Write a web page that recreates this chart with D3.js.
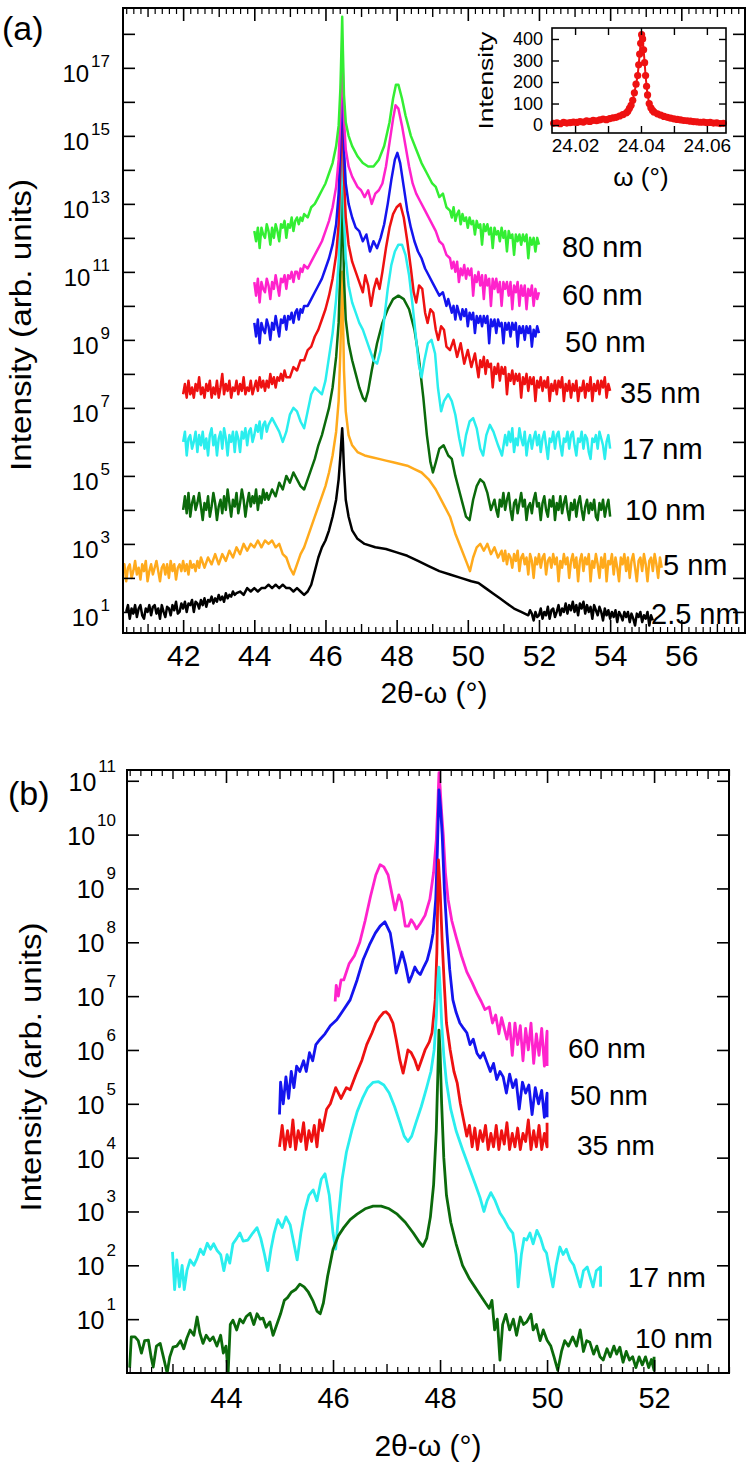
<!DOCTYPE html>
<html>
<head>
<meta charset="utf-8">
<title>2θ-ω scans</title>
<script src="https://cdn.jsdelivr.net/npm/d3@7/dist/d3.min.js"></script>
<style>
  html, body { margin: 0; padding: 0; background: #fff; }
  svg { display: block; }
  text { font-family: 'Liberation Sans', Arial, Helvetica, sans-serif; fill: #000; }
</style>
</head>
<body>
<svg id="chart" width="750" height="1466"></svg>
<script>
// Scans: [2θ-ω in degrees, log10 of intensity]

// panel (a)
const a80 = [[44.0,12.2],[44.05,11.9],[44.1,12.3],[44.15,11.7],[44.2,12.3],[44.25,12.1],[44.3,12.0],[44.35,12.4],[44.4,12.2],[44.45,11.8],[44.5,12.3],[44.55,12.0],[44.6,12.4],[44.65,12.2],[44.7,11.9],[44.75,12.4],[44.8,12.3],[44.85,12.5],[44.9,12.0],[44.95,12.4],[45.0,12.3],[45.05,12.6],[45.1,12.2],[45.15,12.5],[45.2,12.6],[45.25,12.4],[45.3,12.6],[45.35,12.5],[45.4,12.7],[45.5,12.6],[45.6,12.9],[45.7,13.0],[45.8,13.2],[45.9,13.4],[46.0,13.6],[46.1,13.9],[46.2,14.2],[46.3,14.7],[46.37,15.3],[46.42,16.4],[46.45,17.6],[46.47,18.5],[46.49,17.5],[46.52,16.2],[46.57,15.4],[46.65,15.0],[46.75,14.7],[46.9,14.4],[47.05,14.2],[47.2,14.1],[47.35,14.1],[47.5,14.3],[47.65,14.7],[47.8,15.4],[47.9,16.1],[47.98,16.5],[48.05,16.5],[48.15,16.1],[48.25,15.6],[48.4,15.0],[48.55,14.6],[48.7,14.2],[48.85,13.9],[49.0,13.6],[49.1,13.5],[49.2,13.2],[49.3,13.3],[49.4,12.9],[49.5,12.8],[49.55,12.6],[49.6,12.9],[49.65,12.5],[49.7,12.7],[49.75,12.8],[49.8,12.4],[49.85,12.7],[49.9,12.5],[49.95,12.6],[50.0,12.3],[50.05,12.6],[50.1,12.4],[50.15,12.5],[50.2,12.1],[50.25,12.5],[50.3,12.3],[50.35,12.4],[50.4,11.8],[50.45,12.4],[50.5,12.2],[50.55,12.4],[50.6,12.1],[50.65,12.3],[50.7,11.7],[50.75,12.3],[50.8,12.1],[50.85,12.2],[50.9,11.9],[50.95,12.3],[51.0,12.0],[51.05,12.2],[51.1,11.6],[51.15,12.2],[51.2,12.0],[51.25,12.1],[51.3,11.5],[51.35,12.1],[51.4,11.9],[51.45,12.1],[51.5,11.8],[51.55,12.1],[51.6,11.9],[51.65,12.1],[51.7,11.4],[51.75,12.0],[51.8,11.8],[51.85,12.0],[51.9,11.6],[51.95,12.0],[52.0,11.8]];

const a60 = [[44.0,10.7],[44.05,10.3],[44.1,10.8],[44.15,10.1],[44.2,10.7],[44.25,10.5],[44.3,10.4],[44.35,10.8],[44.4,10.6],[44.45,10.2],[44.5,10.7],[44.55,10.5],[44.6,10.9],[44.65,10.6],[44.7,10.3],[44.75,10.8],[44.8,10.7],[44.85,10.9],[44.9,10.5],[44.95,10.9],[45.0,10.8],[45.05,11.0],[45.1,10.7],[45.15,11.0],[45.2,11.0],[45.25,10.8],[45.3,11.1],[45.35,11.0],[45.4,11.2],[45.5,11.1],[45.6,11.3],[45.7,11.5],[45.8,11.7],[45.9,11.9],[46.0,12.2],[46.1,12.5],[46.2,12.9],[46.3,13.5],[46.37,14.3],[46.42,15.6],[46.45,16.8],[46.47,17.8],[46.49,16.8],[46.52,15.5],[46.57,14.6],[46.65,14.1],[46.75,13.8],[46.9,13.5],[47.0,13.4],[47.1,13.2],[47.2,13.4],[47.3,13.0],[47.4,13.3],[47.5,13.4],[47.6,13.6],[47.7,14.1],[47.8,14.8],[47.9,15.5],[47.97,15.9],[48.05,15.8],[48.15,15.3],[48.25,14.7],[48.35,14.1],[48.45,13.6],[48.55,13.3],[48.65,13.1],[48.8,12.8],[48.95,12.5],[49.1,12.2],[49.2,11.9],[49.3,11.8],[49.4,11.5],[49.5,11.4],[49.55,11.1],[49.6,11.3],[49.65,11.0],[49.7,11.3],[49.75,10.7],[49.8,11.1],[49.85,10.9],[49.9,11.2],[49.95,10.8],[50.0,11.1],[50.05,10.9],[50.1,11.1],[50.15,10.3],[50.2,10.9],[50.25,10.7],[50.3,11.0],[50.35,10.6],[50.4,10.9],[50.45,10.2],[50.5,10.9],[50.55,10.6],[50.6,10.8],[50.65,10.0],[50.7,10.8],[50.75,10.5],[50.8,10.8],[50.85,10.4],[50.9,10.7],[50.95,10.0],[51.0,10.7],[51.05,10.5],[51.1,10.7],[51.15,10.3],[51.2,10.7],[51.25,9.9],[51.3,10.6],[51.35,10.4],[51.4,10.7],[51.45,10.0],[51.5,10.6],[51.55,10.3],[51.6,10.6],[51.65,9.9],[51.7,10.5],[51.75,10.3],[51.8,10.6],[51.85,10.0],[51.9,10.5],[51.95,10.2],[52.0,10.4]];

const a50 = [[44.0,9.5],[44.05,9.1],[44.1,9.6],[44.15,8.9],[44.2,9.5],[44.25,9.3],[44.3,9.2],[44.35,9.6],[44.4,9.4],[44.45,9.0],[44.5,9.5],[44.55,9.3],[44.6,9.7],[44.65,9.4],[44.7,9.1],[44.75,9.6],[44.8,9.5],[44.85,9.7],[44.9,9.3],[44.95,9.7],[45.0,9.6],[45.05,9.8],[45.1,9.5],[45.15,9.8],[45.2,9.9],[45.25,9.6],[45.3,9.9],[45.35,9.8],[45.4,10.0],[45.5,10.0],[45.6,10.2],[45.7,10.4],[45.8,10.6],[45.9,10.8],[46.0,11.1],[46.1,11.4],[46.2,11.8],[46.3,12.4],[46.37,13.3],[46.42,14.8],[46.45,16.2],[46.47,17.3],[46.49,16.2],[46.52,14.6],[46.57,13.6],[46.65,13.0],[46.75,12.6],[46.85,12.3],[46.95,12.2],[47.05,11.9],[47.15,12.1],[47.25,11.6],[47.35,11.9],[47.45,11.7],[47.55,12.0],[47.65,12.4],[47.75,13.0],[47.85,13.7],[47.95,14.3],[48.02,14.5],[48.1,14.2],[48.2,13.5],[48.3,12.8],[48.4,12.3],[48.5,11.9],[48.6,11.6],[48.7,11.4],[48.8,11.1],[48.9,10.9],[49.0,10.7],[49.1,10.5],[49.2,10.3],[49.3,10.4],[49.4,10.0],[49.45,10.2],[49.5,10.0],[49.55,9.8],[49.6,10.0],[49.65,9.6],[49.7,10.0],[49.75,9.8],[49.8,9.6],[49.85,9.9],[49.9,9.7],[49.95,9.9],[50.0,9.4],[50.05,9.8],[50.1,9.6],[50.15,9.8],[50.2,9.2],[50.25,9.7],[50.3,9.5],[50.35,9.7],[50.4,9.4],[50.45,9.7],[50.5,9.5],[50.55,9.7],[50.6,8.9],[50.65,9.6],[50.7,9.4],[50.75,9.6],[50.8,9.2],[50.85,9.6],[50.9,9.4],[50.95,9.5],[51.0,8.9],[51.05,9.5],[51.1,9.3],[51.15,9.5],[51.2,9.1],[51.25,9.5],[51.3,9.3],[51.35,9.5],[51.4,8.8],[51.45,9.4],[51.5,9.2],[51.55,9.4],[51.6,9.0],[51.65,9.4],[51.7,9.2],[51.75,9.4],[51.8,8.8],[51.85,9.3],[51.9,9.1],[51.95,9.4],[52.0,9.2]];

const a35 = [[42.0,7.4],[42.05,7.7],[42.1,7.3],[42.15,7.8],[42.2,7.4],[42.25,7.6],[42.3,7.3],[42.35,7.7],[42.4,7.5],[42.45,7.9],[42.5,7.4],[42.55,7.6],[42.6,7.3],[42.65,7.7],[42.7,7.5],[42.75,7.8],[42.8,7.3],[42.85,7.6],[42.9,7.4],[42.95,7.8],[43.0,7.3],[43.05,7.6],[43.1,8.0],[43.15,7.4],[43.2,7.7],[43.25,7.5],[43.3,7.8],[43.35,7.3],[43.4,7.6],[43.45,7.5],[43.5,7.8],[43.55,7.4],[43.6,7.7],[43.65,7.5],[43.7,7.9],[43.75,7.4],[43.8,7.6],[43.85,7.5],[43.9,7.8],[43.95,7.4],[44.0,7.6],[44.05,7.8],[44.1,7.5],[44.15,7.9],[44.2,7.6],[44.25,7.8],[44.3,7.5],[44.35,7.8],[44.4,7.6],[44.45,8.0],[44.5,7.7],[44.55,7.9],[44.6,7.6],[44.65,7.9],[44.7,7.8],[44.75,8.0],[44.8,7.8],[44.85,8.1],[44.9,7.9],[45.0,7.9],[45.1,8.2],[45.2,8.1],[45.3,8.4],[45.4,8.4],[45.5,8.7],[45.6,8.8],[45.7,9.1],[45.8,9.3],[45.9,9.6],[46.0,9.9],[46.1,10.3],[46.2,10.8],[46.3,11.5],[46.37,12.4],[46.42,14.0],[46.45,15.4],[46.47,16.5],[46.49,15.4],[46.52,13.8],[46.57,12.6],[46.65,11.8],[46.75,11.3],[46.85,11.0],[46.95,10.7],[47.05,10.4],[47.12,10.9],[47.2,10.6],[47.28,10.0],[47.36,10.5],[47.44,10.8],[47.52,10.5],[47.6,11.0],[47.7,11.7],[47.8,12.3],[47.9,12.7],[48.0,12.9],[48.1,13.0],[48.2,12.6],[48.3,11.9],[48.4,11.1],[48.48,10.4],[48.55,10.1],[48.63,10.6],[48.72,10.5],[48.8,9.8],[48.87,9.5],[48.95,9.9],[49.03,9.8],[49.1,9.3],[49.17,9.0],[49.25,9.4],[49.33,9.3],[49.4,8.8],[49.5,8.7],[49.6,9.0],[49.7,8.5],[49.8,8.9],[49.9,8.3],[50.0,8.7],[50.1,8.2],[50.2,8.6],[50.3,7.9],[50.35,8.4],[50.4,8.2],[50.45,8.5],[50.5,8.0],[50.55,8.4],[50.6,8.2],[50.65,8.3],[50.7,7.6],[50.75,8.2],[50.8,8.0],[50.85,8.3],[50.9,7.8],[50.95,8.2],[51.0,8.0],[51.05,8.2],[51.1,7.4],[51.15,8.0],[51.2,7.8],[51.25,8.1],[51.3,7.7],[51.35,8.0],[51.4,7.8],[51.45,8.0],[51.5,7.3],[51.55,7.9],[51.6,7.7],[51.65,8.0],[51.7,7.5],[51.75,7.9],[51.8,7.7],[51.85,7.9],[51.9,7.2],[51.95,7.8],[52.0,7.6],[52.05,7.9],[52.1,7.5],[52.15,7.8],[52.2,7.6],[52.25,7.9],[52.3,7.2],[52.35,7.7],[52.4,7.5],[52.45,7.8],[52.5,7.4],[52.55,7.8],[52.6,7.6],[52.65,7.9],[52.7,7.2],[52.75,7.7],[52.8,7.5],[52.85,7.8],[52.9,7.3],[52.95,7.7],[53.0,7.5],[53.05,7.8],[53.1,7.2],[53.15,7.6],[53.2,7.5],[53.25,7.8],[53.3,7.3],[53.35,7.7],[53.4,7.5],[53.45,7.9],[53.5,7.2],[53.55,7.7],[53.6,7.5],[53.65,7.8],[53.7,7.4],[53.75,7.8],[53.8,7.6],[53.85,7.9],[53.9,7.3],[53.95,7.7],[54.0,7.5]];

const a17 = [[42.0,6.0],[42.05,6.3],[42.1,5.6],[42.15,6.1],[42.2,6.2],[42.25,5.8],[42.3,6.0],[42.35,6.3],[42.4,5.7],[42.45,6.2],[42.5,5.9],[42.55,6.3],[42.6,5.8],[42.65,6.1],[42.7,5.6],[42.75,6.2],[42.8,6.4],[42.85,5.9],[42.9,6.2],[42.95,5.6],[43.0,6.1],[43.05,6.3],[43.1,5.8],[43.15,6.4],[43.2,6.1],[43.25,5.6],[43.3,6.2],[43.35,6.0],[43.4,6.3],[43.45,5.7],[43.5,6.3],[43.55,6.1],[43.6,5.7],[43.65,6.3],[43.7,6.1],[43.75,6.4],[43.8,5.9],[43.85,6.3],[43.9,6.4],[43.95,6.0],[44.0,6.2],[44.05,6.5],[44.1,6.3],[44.15,6.6],[44.2,6.1],[44.25,6.5],[44.3,6.6],[44.35,6.3],[44.4,6.5],[44.5,6.7],[44.6,6.5],[44.7,6.3],[44.8,6.0],[44.9,6.3],[45.0,6.8],[45.1,7.0],[45.2,6.9],[45.3,6.6],[45.4,6.4],[45.5,6.9],[45.6,7.4],[45.7,7.6],[45.8,7.5],[45.9,7.4],[46.0,7.8],[46.1,8.5],[46.2,9.2],[46.3,10.2],[46.37,11.3],[46.42,13.0],[46.45,14.4],[46.47,15.5],[46.49,14.3],[46.52,12.6],[46.57,11.4],[46.65,10.6],[46.75,10.1],[46.85,9.8],[46.95,9.5],[47.05,9.3],[47.15,9.0],[47.25,8.7],[47.35,8.4],[47.45,8.3],[47.55,8.7],[47.65,9.6],[47.75,10.5],[47.85,11.2],[47.95,11.6],[48.05,11.8],[48.15,11.8],[48.25,11.5],[48.35,10.9],[48.45,10.0],[48.55,9.0],[48.62,8.3],[48.7,7.9],[48.78,8.4],[48.88,8.9],[48.98,9.0],[49.08,8.6],[49.16,7.6],[49.25,6.9],[49.33,7.2],[49.45,7.4],[49.55,7.2],[49.65,6.8],[49.76,6.1],[49.86,5.6],[49.95,6.2],[50.05,6.6],[50.15,6.7],[50.25,6.4],[50.35,5.8],[50.43,5.6],[50.52,6.2],[50.62,6.5],[50.72,6.3],[50.85,5.9],[50.96,5.6],[51.05,6.2],[51.1,5.9],[51.15,6.3],[51.2,6.0],[51.25,6.4],[51.3,5.7],[51.35,6.1],[51.4,5.9],[51.45,6.4],[51.5,6.1],[51.55,5.9],[51.6,6.3],[51.65,5.6],[51.7,6.0],[51.75,6.2],[51.8,5.8],[51.85,6.1],[51.9,6.3],[51.95,5.9],[52.0,6.2],[52.05,5.7],[52.1,6.1],[52.15,6.3],[52.2,5.9],[52.25,5.5],[52.3,6.1],[52.35,6.0],[52.4,6.3],[52.45,5.8],[52.5,6.2],[52.55,6.3],[52.6,5.9],[52.65,5.6],[52.7,6.1],[52.75,6.0],[52.8,6.3],[52.85,5.8],[52.9,6.2],[52.95,6.3],[53.0,5.9],[53.05,5.6],[53.1,6.1],[53.15,6.0],[53.2,6.3],[53.25,5.8],[53.3,6.2],[53.35,6.1],[53.4,5.7],[53.45,5.5],[53.5,6.1],[53.55,6.0],[53.6,6.2],[53.65,5.8],[53.7,6.3],[53.75,6.1],[53.8,5.9],[53.85,5.5],[53.9,6.0],[53.95,6.2],[54.0,5.8]];

const a10 = [[42.0,4.0],[42.05,4.4],[42.1,3.9],[42.15,4.5],[42.2,3.8],[42.25,4.2],[42.3,4.4],[42.35,4.0],[42.4,4.2],[42.45,4.5],[42.5,4.1],[42.55,3.7],[42.6,4.2],[42.65,4.0],[42.7,4.4],[42.75,3.8],[42.8,4.1],[42.85,4.5],[42.9,4.2],[42.95,3.7],[43.0,4.1],[43.05,4.3],[43.1,3.9],[43.15,4.4],[43.2,4.0],[43.25,4.6],[43.3,4.2],[43.35,3.8],[43.4,4.3],[43.45,4.1],[43.5,4.5],[43.55,3.9],[43.6,4.2],[43.65,4.6],[43.7,4.3],[43.75,3.8],[43.8,4.2],[43.85,4.5],[43.9,4.1],[43.95,4.4],[44.0,4.2],[44.05,4.6],[44.1,4.0],[44.15,4.4],[44.2,4.2],[44.25,4.6],[44.3,4.3],[44.35,4.5],[44.4,4.3],[44.5,4.6],[44.6,4.4],[44.7,4.8],[44.8,4.6],[44.9,5.0],[45.0,4.8],[45.1,5.1],[45.2,4.9],[45.3,4.7],[45.4,4.6],[45.5,4.9],[45.6,5.2],[45.7,5.5],[45.8,5.9],[45.9,6.2],[46.0,6.6],[46.1,7.0],[46.2,7.6],[46.3,8.5],[46.37,9.5],[46.42,11.2],[46.45,12.6],[46.47,13.6],[46.49,12.5],[46.52,10.8],[46.57,9.6],[46.65,8.9],[46.75,8.4],[46.85,8.0],[46.95,7.6],[47.05,7.3],[47.12,7.2],[47.2,7.5],[47.3,8.1],[47.45,8.9],[47.6,9.5],[47.75,9.9],[47.9,10.2],[48.05,10.3],[48.2,10.2],[48.35,9.9],[48.5,9.3],[48.62,8.5],[48.75,7.3],[48.85,6.2],[48.95,5.4],[49.02,5.1],[49.1,5.4],[49.2,5.8],[49.32,5.9],[49.45,5.6],[49.55,5.5],[49.65,5.0],[49.75,4.6],[49.85,4.2],[49.95,3.8],[50.05,3.7],[50.15,4.3],[50.25,4.7],[50.35,4.9],[50.45,4.8],[50.55,4.5],[50.65,4.0],[50.75,4.3],[50.8,4.0],[50.85,3.8],[50.9,4.3],[50.95,4.1],[51.0,4.5],[51.05,4.0],[51.1,4.3],[51.15,4.5],[51.2,4.0],[51.25,3.7],[51.3,4.2],[51.35,4.3],[51.4,3.9],[51.45,4.2],[51.5,4.5],[51.55,4.1],[51.6,4.3],[51.65,3.7],[51.7,4.1],[51.75,4.2],[51.8,3.9],[51.85,4.3],[51.9,4.5],[51.95,4.1],[52.0,4.2],[52.05,3.7],[52.1,4.2],[52.15,4.4],[52.2,4.0],[52.25,3.8],[52.3,4.3],[52.35,4.1],[52.4,4.4],[52.45,3.7],[52.5,4.2],[52.55,4.0],[52.6,4.4],[52.65,3.9],[52.7,4.2],[52.75,4.4],[52.8,4.0],[52.85,3.7],[52.9,4.2],[52.95,4.0],[53.0,4.3],[53.05,3.8],[53.1,4.2],[53.15,4.4],[53.2,4.0],[53.25,3.7],[53.3,4.1],[53.35,4.3],[53.4,3.9],[53.45,4.2],[53.5,4.0],[53.55,4.3],[53.6,3.8],[53.65,3.7],[53.7,4.2],[53.75,4.0],[53.8,4.3],[53.85,3.8],[53.9,4.1],[53.95,4.3],[54.0,3.8]];

const a5 = [[40.3,2.2],[40.35,2.4],[40.4,1.9],[40.45,2.3],[40.5,2.4],[40.55,2.0],[40.6,2.2],[40.65,2.5],[40.7,2.1],[40.75,2.3],[40.8,1.95],[40.85,2.4],[40.9,2.2],[40.95,2.5],[41.0,1.9],[41.05,2.2],[41.1,2.4],[41.15,2.1],[41.2,2.3],[41.25,2.5],[41.3,2.2],[41.35,1.9],[41.4,2.3],[41.45,2.4],[41.5,2.1],[41.55,2.4],[41.6,2.0],[41.65,2.5],[41.7,2.2],[41.75,2.4],[41.8,1.95],[41.85,2.3],[41.9,2.4],[41.95,2.2],[42.0,2.5],[42.05,2.2],[42.1,2.4],[42.15,2.1],[42.2,2.5],[42.25,2.3],[42.3,2.4],[42.35,2.2],[42.4,2.5],[42.45,2.3],[42.5,2.6],[42.6,2.3],[42.7,2.6],[42.8,2.4],[42.9,2.7],[43.0,2.4],[43.1,2.7],[43.2,2.5],[43.3,2.8],[43.4,2.6],[43.5,2.9],[43.6,2.7],[43.7,3.0],[43.8,2.8],[43.9,3.0],[44.0,2.9],[44.1,3.1],[44.2,2.9],[44.3,3.1],[44.4,3.0],[44.5,3.1],[44.6,2.9],[44.7,3.0],[44.8,2.7],[44.9,2.6],[45.0,2.3],[45.1,2.1],[45.2,2.4],[45.3,2.7],[45.4,2.9],[45.5,3.2],[45.6,3.5],[45.7,3.8],[45.8,4.1],[45.9,4.4],[46.0,4.7],[46.1,5.1],[46.2,5.6],[46.3,6.3],[46.37,7.2],[46.42,8.7],[46.45,10.0],[46.47,11.0],[46.49,9.8],[46.52,8.1],[46.57,6.9],[46.65,6.2],[46.75,5.9],[46.9,5.7],[47.1,5.6],[47.3,5.55],[47.5,5.5],[47.7,5.45],[47.9,5.4],[48.1,5.35],[48.3,5.3],[48.5,5.2],[48.7,5.1],[48.9,4.9],[49.1,4.6],[49.3,4.2],[49.5,3.8],[49.65,3.3],[49.8,2.9],[49.95,2.5],[50.06,2.2],[50.15,2.6],[50.25,2.9],[50.35,3.0],[50.45,2.8],[50.55,3.0],[50.65,2.7],[50.75,2.9],[50.85,2.6],[50.95,2.8],[51.0,2.5],[51.05,2.8],[51.1,2.4],[51.15,2.7],[51.2,2.6],[51.25,2.3],[51.3,2.7],[51.35,2.5],[51.4,2.8],[51.45,2.2],[51.5,2.6],[51.55,2.7],[51.6,2.4],[51.65,2.6],[51.7,2.1],[51.75,2.7],[51.8,2.5],[51.85,2.0],[51.9,2.6],[51.95,2.4],[52.0,2.7],[52.05,2.3],[52.1,2.6],[52.15,2.7],[52.2,2.1],[52.25,2.5],[52.3,2.6],[52.35,2.3],[52.4,2.7],[52.45,2.4],[52.5,2.6],[52.55,1.9],[52.6,2.5],[52.65,2.3],[52.7,2.7],[52.75,2.4],[52.8,2.6],[52.85,2.0],[52.9,2.5],[52.95,2.7],[53.0,2.3],[53.05,2.6],[53.1,1.9],[53.15,2.5],[53.2,2.7],[53.25,2.2],[53.3,2.6],[53.35,2.4],[53.4,2.7],[53.45,1.9],[53.5,2.5],[53.55,2.3],[53.6,2.7],[53.65,2.4],[53.7,2.0],[53.75,2.6],[53.8,2.3],[53.85,2.7],[53.9,1.9],[53.95,2.5],[54.0,2.4],[54.05,2.7],[54.1,2.1],[54.15,2.6],[54.2,2.3],[54.25,1.9],[54.3,2.6],[54.35,2.4],[54.4,2.7],[54.45,2.2],[54.5,2.6],[54.55,2.0],[54.6,2.5],[54.65,2.7],[54.7,2.3],[54.75,1.9],[54.8,2.5],[54.85,2.6],[54.9,2.2],[54.95,2.7],[55.0,2.4],[55.05,1.9],[55.1,2.5],[55.15,2.6],[55.2,2.2],[55.25,2.7],[55.3,2.4],[55.35,2.0],[55.4,2.6],[55.45,2.3]];

const a25 = [[40.4,1.0],[40.45,1.2],[40.5,0.8],[40.55,1.1],[40.6,0.95],[40.65,1.2],[40.7,0.85],[40.75,1.1],[40.8,1.2],[40.85,0.9],[40.9,0.8],[40.95,1.1],[41.0,1.0],[41.05,1.2],[41.1,0.9],[41.15,1.15],[41.2,1.2],[41.25,0.95],[41.3,1.1],[41.35,0.8],[41.4,1.2],[41.45,1.0],[41.5,0.85],[41.55,1.15],[41.6,1.1],[41.65,0.9],[41.7,1.2],[41.75,1.05],[41.8,1.3],[41.85,0.95],[41.9,1.0],[41.95,1.25],[42.0,1.1],[42.05,1.3],[42.1,1.0],[42.15,1.25],[42.2,1.2],[42.25,1.35],[42.3,1.0],[42.35,1.3],[42.4,1.25],[42.45,1.1],[42.5,1.35],[42.55,1.2],[42.6,1.4],[42.65,1.15],[42.7,1.35],[42.75,1.3],[42.8,1.45],[42.85,1.25],[42.9,1.4],[42.95,1.3],[43.0,1.5],[43.05,1.35],[43.1,1.45],[43.15,1.3],[43.2,1.55],[43.25,1.4],[43.3,1.5],[43.35,1.45],[43.4,1.6],[43.45,1.5],[43.5,1.55],[43.6,1.6],[43.7,1.5],[43.8,1.7],[43.9,1.6],[44.0,1.7],[44.1,1.6],[44.2,1.7],[44.3,1.7],[44.4,1.8],[44.5,1.7],[44.6,1.8],[44.7,1.7],[44.8,1.8],[44.9,1.7],[45.0,1.7],[45.1,1.6],[45.2,1.7],[45.3,1.6],[45.4,1.5],[45.5,1.6],[45.6,1.8],[45.7,2.2],[45.8,2.6],[45.9,2.9],[46.0,3.1],[46.1,3.4],[46.2,3.8],[46.3,4.3],[46.37,4.9],[46.42,5.6],[46.45,6.1],[46.47,6.4],[46.49,6.0],[46.52,5.2],[46.57,4.3],[46.65,3.8],[46.75,3.4],[46.9,3.15],[47.1,3.0],[47.4,2.9],[47.7,2.85],[48.0,2.75],[48.3,2.65],[48.6,2.5],[48.9,2.35],[49.2,2.2],[49.5,2.1],[49.8,2.0],[50.1,1.9],[50.3,1.85],[50.5,1.7],[50.7,1.55],[50.9,1.4],[51.1,1.25],[51.3,1.1],[51.5,1.0],[51.7,0.9],[51.75,1.05],[51.8,0.95],[51.85,0.75],[51.9,1.0],[51.95,0.85],[52.0,0.9],[52.05,1.1],[52.1,0.8],[52.15,1.0],[52.2,0.9],[52.25,1.15],[52.3,0.8],[52.35,1.05],[52.4,1.1],[52.45,0.85],[52.5,1.0],[52.55,1.2],[52.6,0.9],[52.65,1.1],[52.7,1.0],[52.75,1.25],[52.8,0.95],[52.85,1.2],[52.9,1.05],[52.95,1.3],[53.0,1.0],[53.05,1.2],[53.1,0.9],[53.15,1.25],[53.2,1.1],[53.25,1.3],[53.3,0.95],[53.35,1.2],[53.4,1.0],[53.45,1.15],[53.5,0.8],[53.55,1.2],[53.6,1.05],[53.65,0.9],[53.7,1.15],[53.75,1.0],[53.8,0.75],[53.85,1.1],[53.9,0.9],[53.95,1.05],[54.0,0.8],[54.05,1.0],[54.1,0.85],[54.15,1.05],[54.2,0.7],[54.25,1.0],[54.3,0.9],[54.35,0.75],[54.4,1.0],[54.45,0.85],[54.5,1.0],[54.55,0.7],[54.6,0.95],[54.65,0.8],[54.7,0.6],[54.75,0.95],[54.8,0.85],[54.85,1.0],[54.9,0.7],[54.95,0.9],[55.0,0.8],[55.05,1.0],[55.1,0.6],[55.15,0.9],[55.2,0.75]];

// inset of (a): rocking curve, [ω in degrees, counts]
const rocking = [[24.0135,8],[24.0145,10],[24.0155,6],[24.0165,12],[24.0175,9],[24.0185,11],[24.0195,14],[24.0205,12],[24.0215,16],[24.0225,14],[24.0235,19],[24.0245,17],[24.0255,22],[24.0265,20],[24.0275,24],[24.0285,28],[24.0295,25],[24.0305,30],[24.0315,33],[24.0325,36],[24.0335,42],[24.0345,48],[24.0355,56],[24.036,64],[24.0365,78],[24.037,92],[24.0375,115],[24.038,150],[24.0385,190],[24.039,230],[24.0393,280],[24.0396,330],[24.0399,380],[24.0402,420],[24.0405,400],[24.0408,350],[24.0411,290],[24.0414,230],[24.0417,180],[24.042,140],[24.0425,100],[24.043,80],[24.0435,68],[24.044,60],[24.045,52],[24.046,46],[24.047,40],[24.048,36],[24.049,32],[24.05,29],[24.051,26],[24.052,24],[24.053,21],[24.054,20],[24.055,18],[24.056,16],[24.057,15],[24.058,13],[24.059,14],[24.06,11],[24.061,12],[24.062,9],[24.063,10],[24.064,7],[24.065,8]];

// panel (b)
const b60 = [[46.04,6.9],[46.06,7.2],[46.1,7.0],[46.15,7.3],[46.2,7.3],[46.3,7.6],[46.4,7.75],[46.5,8.0],[46.6,8.4],[46.7,8.85],[46.8,9.25],[46.88,9.44],[46.95,9.4],[47.03,9.25],[47.1,8.9],[47.16,8.6],[47.23,8.88],[47.28,8.75],[47.35,8.3],[47.41,8.3],[47.46,8.42],[47.51,8.35],[47.56,8.25],[47.63,8.35],[47.72,8.5],[47.81,8.8],[47.88,9.3],[47.93,9.9],[47.96,10.6],[47.98,11.15],[48.0,10.9],[48.03,10.4],[48.06,10.0],[48.1,9.3],[48.15,8.8],[48.22,8.4],[48.3,8.1],[48.4,7.75],[48.5,7.45],[48.6,7.25],[48.69,7.05],[48.77,6.9],[48.84,6.75],[48.92,6.8],[48.98,6.5],[49.04,6.65],[49.1,6.3],[49.15,6.6],[49.2,6.4],[49.25,6.2],[49.3,6.5],[49.35,5.9],[49.4,6.5],[49.45,6.1],[49.5,6.45],[49.55,5.8],[49.6,6.4],[49.65,6.0],[49.7,6.5],[49.75,5.75],[49.8,6.3],[49.85,5.9],[49.9,6.4],[49.95,5.7],[50.0,6.35],[50.0,5.7]];

const b50 = [[45.0,4.8],[45.02,5.4],[45.07,5.0],[45.12,5.5],[45.17,5.1],[45.22,5.6],[45.27,5.3],[45.32,5.7],[45.38,5.6],[45.45,5.8],[45.5,5.6],[45.56,5.95],[45.62,5.8],[45.68,6.1],[45.76,6.2],[45.85,6.3],[45.95,6.45],[46.07,6.56],[46.2,6.75],[46.32,6.93],[46.45,7.3],[46.56,7.67],[46.68,7.95],[46.79,8.17],[46.88,8.3],[46.97,8.38],[47.07,8.17],[47.13,7.8],[47.18,7.43],[47.23,7.6],[47.29,7.82],[47.35,7.6],[47.42,7.26],[47.48,7.4],[47.53,7.54],[47.58,7.45],[47.63,7.4],[47.7,7.55],[47.76,7.67],[47.82,7.9],[47.87,8.17],[47.92,8.8],[47.95,9.7],[47.98,10.83],[48.01,10.5],[48.04,10.0],[48.08,9.0],[48.13,8.17],[48.18,7.5],[48.24,6.93],[48.3,6.7],[48.37,6.5],[48.44,6.4],[48.5,6.32],[48.56,6.1],[48.62,6.2],[48.69,5.94],[48.75,5.85],[48.81,5.95],[48.88,5.76],[48.94,5.6],[49.0,5.75],[49.06,5.45],[49.12,5.6],[49.18,5.5],[49.24,5.2],[49.3,5.55],[49.36,5.3],[49.42,5.45],[49.48,4.9],[49.54,5.4],[49.6,5.2],[49.66,5.35],[49.72,4.8],[49.78,5.3],[49.84,5.0],[49.9,5.25],[49.95,4.75],[50.0,5.2],[50.0,4.75]];

const b35 = [[45.0,4.2],[45.05,4.6],[45.1,4.15],[45.15,4.5],[45.2,4.2],[45.25,4.7],[45.3,4.15],[45.35,4.5],[45.4,4.3],[45.45,4.65],[45.5,4.15],[45.55,4.5],[45.6,4.3],[45.65,4.6],[45.7,4.2],[45.75,4.7],[45.8,4.5],[45.88,4.9],[45.95,5.0],[46.05,5.3],[46.15,5.1],[46.25,5.3],[46.32,5.26],[46.43,5.55],[46.54,5.81],[46.63,6.1],[46.73,6.32],[46.8,6.5],[46.88,6.62],[46.95,6.7],[46.99,6.71],[47.05,6.65],[47.12,6.5],[47.18,6.2],[47.25,5.81],[47.31,5.57],[47.36,5.8],[47.4,6.0],[47.46,5.95],[47.53,5.81],[47.59,5.63],[47.65,5.8],[47.72,6.0],[47.8,6.15],[47.85,6.32],[47.91,6.93],[47.94,7.8],[47.97,9.53],[48.0,9.0],[48.04,8.0],[48.08,7.2],[48.12,6.5],[48.19,6.0],[48.26,5.6],[48.32,5.39],[48.38,5.0],[48.44,4.7],[48.5,4.4],[48.55,4.6],[48.6,4.2],[48.65,4.55],[48.7,4.15],[48.75,4.5],[48.8,4.3],[48.85,4.6],[48.9,4.15],[48.95,4.45],[49.0,4.2],[49.05,4.6],[49.1,4.15],[49.15,4.5],[49.2,4.25],[49.25,4.65],[49.3,4.15],[49.35,4.45],[49.4,4.2],[49.45,4.55],[49.5,4.15],[49.55,4.45],[49.6,4.3],[49.65,4.7],[49.7,4.15],[49.75,4.5],[49.8,4.2],[49.85,4.6],[49.9,4.15],[49.95,4.45],[50.0,4.2],[50.0,4.65]];

const b17 = [[43.0,2.25],[43.04,1.55],[43.08,2.1],[43.13,1.6],[43.18,2.0],[43.22,1.55],[43.27,1.9],[43.33,2.1],[43.4,2.0],[43.46,2.13],[43.52,2.3],[43.58,2.2],[43.65,2.41],[43.71,2.3],[43.77,2.4],[43.83,2.28],[43.9,2.2],[43.96,1.9],[44.02,2.2],[44.07,2.04],[44.13,2.4],[44.2,2.5],[44.26,2.6],[44.32,2.45],[44.41,2.47],[44.5,2.6],[44.58,2.7],[44.65,2.5],[44.72,2.2],[44.78,1.9],[44.84,2.3],[44.9,2.6],[44.97,2.85],[45.05,2.7],[45.12,2.9],[45.2,2.75],[45.27,2.4],[45.33,2.1],[45.4,2.6],[45.47,3.0],[45.55,3.3],[45.63,3.4],[45.7,3.2],[45.78,3.6],[45.85,3.7],[45.93,3.3],[46.0,2.6],[46.05,2.3],[46.1,2.9],[46.17,3.6],[46.25,4.1],[46.35,4.5],[46.45,4.85],[46.55,5.1],[46.65,5.3],[46.75,5.4],[46.85,5.41],[46.95,5.35],[47.05,5.2],[47.15,4.95],[47.25,4.65],[47.33,4.4],[47.4,4.3],[47.47,4.4],[47.55,4.65],[47.65,4.95],[47.75,5.3],[47.83,5.6],[47.89,6.0],[47.93,6.6],[47.96,7.3],[47.98,7.54],[48.0,7.2],[48.03,6.5],[48.07,5.9],[48.12,5.4],[48.2,4.9],[48.3,4.5],[48.42,4.15],[48.55,3.8],[48.66,3.5],[48.75,3.25],[48.82,3.0],[48.88,3.2],[48.95,3.35],[49.03,3.2],[49.12,2.97],[49.2,2.85],[49.28,2.7],[49.36,2.6],[49.42,2.2],[49.46,1.6],[49.52,2.2],[49.57,2.5],[49.62,2.47],[49.68,2.6],[49.74,2.4],[49.81,2.65],[49.88,2.5],[49.94,2.3],[49.99,2.23],[50.05,1.9],[50.11,1.6],[50.17,2.0],[50.24,2.34],[50.3,2.2],[50.36,2.3],[50.43,2.1],[50.5,2.0],[50.56,1.8],[50.62,1.6],[50.68,1.9],[50.75,1.97],[50.8,1.8],[50.86,1.6],[50.92,1.9],[51.0,1.97],[51.0,1.6]];

const b10 = [[42.2,0.1],[42.23,0.67],[42.3,0.67],[42.36,0.6],[42.42,0.37],[42.48,0.6],[42.55,0.61],[42.6,0.3],[42.64,0.11],[42.7,0.5],[42.77,0.55],[42.83,0.3],[42.9,0.0],[42.95,0.3],[43.01,0.48],[43.08,0.5],[43.15,0.6],[43.21,0.45],[43.27,0.65],[43.33,0.8],[43.4,0.7],[43.46,1.04],[43.51,0.75],[43.57,0.55],[43.63,0.7],[43.7,0.6],[43.76,0.67],[43.83,0.5],[43.9,0.7],[43.95,0.37],[44.0,0.5],[44.04,0.0],[44.08,0.9],[44.13,0.98],[44.2,0.8],[44.26,1.0],[44.32,0.93],[44.38,1.05],[44.45,1.11],[44.52,0.9],[44.58,1.1],[44.64,1.0],[44.69,1.02],[44.75,0.85],[44.82,0.95],[44.88,0.7],[44.95,0.9],[45.02,1.1],[45.09,1.35],[45.15,1.4],[45.22,1.5],[45.3,1.55],[45.38,1.65],[45.46,1.6],[45.54,1.5],[45.62,1.35],[45.7,1.15],[45.76,1.1],[45.82,1.3],[45.9,1.8],[46.0,2.3],[46.1,2.55],[46.2,2.7],[46.32,2.85],[46.45,2.95],[46.6,3.05],[46.75,3.1],[46.9,3.1],[47.05,3.05],[47.2,2.95],[47.35,2.8],[47.5,2.6],[47.6,2.45],[47.68,2.35],[47.75,2.5],[47.82,2.9],[47.88,3.5],[47.93,4.5],[47.96,5.6],[47.98,6.37],[48.0,6.0],[48.03,5.0],[48.07,4.0],[48.12,3.3],[48.2,2.8],[48.3,2.4],[48.42,2.0],[48.55,1.75],[48.65,1.6],[48.75,1.45],[48.85,1.3],[48.92,1.2],[48.97,1.35],[49.02,0.8],[49.07,1.0],[49.12,0.24],[49.17,0.9],[49.23,1.09],[49.3,0.8],[49.37,1.0],[49.43,0.7],[49.5,1.04],[49.56,0.9],[49.62,0.95],[49.7,1.09],[49.74,0.8],[49.8,0.9],[49.87,0.6],[49.93,0.8],[50.0,0.61],[50.07,0.5],[50.13,0.3],[50.2,0.05],[50.27,0.4],[50.33,0.6],[50.4,0.5],[50.48,0.67],[50.55,0.5],[50.62,0.8],[50.68,0.4],[50.74,0.6],[50.8,0.57],[50.87,0.35],[50.93,0.5],[50.99,0.3],[51.05,0.24],[51.12,0.45],[51.18,0.3],[51.25,0.5],[51.3,0.35],[51.36,0.48],[51.42,0.2],[51.48,0.4],[51.54,0.24],[51.6,0.3],[51.66,0.1],[51.72,0.3],[51.78,0.15],[51.84,0.3],[51.9,0.1],[51.95,0.25],[52.0,0.05],[52.0,0.3]];

// tick values and labels
const thetaLabelsA = [42, 44, 46, 48, 50, 52, 54, 56];
const decadesA = [1, 2, 3, 4, 5, 6, 7, 8, 9, 10, 11, 12, 13, 14, 15, 16, 17, 18];
const decadeLabelsA = [1, 3, 5, 7, 9, 11, 13, 15, 17];
const thetaLabelsB = [44, 46, 48, 50, 52];
const decadesB = [1, 2, 3, 4, 5, 6, 7, 8, 9, 10, 11];
const decadeLabelsB = [1, 2, 3, 4, 5, 6, 7, 8, 9, 10, 11];
const omegaLabels = [24.02, 24.04, 24.06];
const omegaTicks = [24.02, 24.03, 24.04, 24.05, 24.06];
const countLabels = [0, 100, 200, 300, 400];

const seriesA = [
  { label: '2.5 nm', color: '#000000', values: a25 },
  { label: '5 nm', color: '#ffaa1c', values: a5 },
  { label: '10 nm', color: '#0b6a0b', values: a10 },
  { label: '17 nm', color: '#2aeeee', values: a17 },
  { label: '35 nm', color: '#ee1111', values: a35 },
  { label: '50 nm', color: '#1414ee', values: a50 },
  { label: '60 nm', color: '#ff22cc', values: a60 },
  { label: '80 nm', color: '#33ee33', values: a80 },
];

const seriesB = [
  { label: '60 nm', color: '#ff22cc', values: b60 },
  { label: '50 nm', color: '#1414ee', values: b50 },
  { label: '35 nm', color: '#ee1111', values: b35 },
  { label: '17 nm', color: '#2aeeee', values: b17 },
  { label: '10 nm', color: '#0b6a0b', values: b10 },
];

// layout
const panelA = {
  id: 'a',
  box: { left: 123, right: 745, top: 8, bottom: 633 },
  xDomain: [40.31, 57.79],
  yDomain: [10 ** 0.38, 10 ** 18.76],
  series: seriesA,
  lineWidth: 2.5,
  thetaLabels: thetaLabelsA,
  decades: decadesA,
  decadeLabels: decadeLabelsA,
  xFont: 30, xPad: 12,
  yLabel: { x: 110, font: 24, sup: 17, base: 14, rise: -15 },
  tags: { '80 nm': [562, 257], '60 nm': [562, 305], '50 nm': [565, 352], '35 nm': [620, 403],
          '17 nm': [622, 459], '10 nm': [625, 520], '5 nm': [663, 575], '2.5 nm': [651, 624] },
  tagFont: 29,
  title: { x: 434, y: 703 },
  yTitle: { x: 31, y: 325, len: 292 },
  panel: { x: 2, y: 40, text: '(a)' },
};

const panelB = {
  id: 'b',
  box: { left: 127, right: 729, top: 770, bottom: 1373 },
  xDomain: [42.15, 53.4],
  yDomain: [1, 10 ** 11.2],
  series: seriesB,
  lineWidth: 2.8,
  thetaLabels: thetaLabelsB,
  decades: decadesB,
  decadeLabels: decadeLabelsB,
  xFont: 29, xPad: 14,
  yLabel: { x: 116, font: 25, sup: 17, base: 10, rise: -19 },
  tags: { '60 nm': [568, 1058], '50 nm': [570, 1105], '35 nm': [577, 1155],
          '17 nm': [628, 1287], '10 nm': [635, 1348] },
  tagFont: 28,
  title: { x: 428, y: 1456 },
  yTitle: { x: 41, y: 1067, len: 289 },
  panel: { x: 8, y: 805, text: '(b)' },
};

const svg = d3.select('#chart');

drawPanel(panelA);
drawPanel(panelB);
drawInset();

function thetaTickSets(x) {
  const [lo, hi] = x.domain();
  const all = d3.range(Math.ceil(lo * 5), Math.floor(hi * 5) + 1).map((k) => k / 5);
  const isInt = (v) => Math.abs(v - Math.round(v)) < 1e-6;
  return {
    minor: all.filter((v) => !isInt(v)),
    odd: all.filter((v) => isInt(v) && Math.round(v) % 2 !== 0),
    even: all.filter((v) => isInt(v) && Math.round(v) % 2 === 0),
  };
}

function plainAxis(g, axis, transform, width) {
  g.append('g')
    .attr('transform', transform)
    .call(axis)
    .call((s) => s.select('.domain').remove())
    .call((s) => s.selectAll('line').attr('stroke-width', width));
}

function drawPanel(p) {
  const b = p.box;
  const g = svg.append('g').attr('class', `panel-${p.id}`);
  const x = d3.scaleLinear().domain(p.xDomain).range([b.left, b.right]);
  const y = d3.scaleLog().domain(p.yDomain).range([b.bottom, b.top]);

  g.append('clipPath')
    .attr('id', `clip-${p.id}`)
    .append('rect')
    .attr('x', b.left)
    .attr('y', b.top)
    .attr('width', b.right - b.left)
    .attr('height', b.bottom - b.top);

  const line = d3
    .line()
    .x((d) => x(d[0]))
    .y((d) => y(10 ** d[1]));

  g.append('g')
    .attr('class', 'traces')
    .attr('clip-path', `url(#clip-${p.id})`)
    .selectAll('path')
    .data(p.series)
    .join('path')
    .attr('fill', 'none')
    .attr('stroke', (d) => d.color)
    .attr('stroke-width', p.lineWidth)
    .attr('stroke-linejoin', 'round')
    .attr('d', (d) => line(d.values));

  // ticks on all four sides, pointing inwards
  const t = thetaTickSets(x);
  const bottom = `translate(0,${b.bottom})`;
  const top = `translate(0,${b.top})`;
  plainAxis(g, d3.axisBottom(x).tickValues(t.minor).tickSize(-6).tickFormat(''), bottom, 1.2);
  plainAxis(g, d3.axisBottom(x).tickValues(t.odd).tickSize(-9).tickFormat(''), bottom, 1.4);
  plainAxis(g, d3.axisTop(x).tickValues(t.minor).tickSize(-6).tickFormat(''), top, 1.2);
  plainAxis(g, d3.axisTop(x).tickValues(t.odd).tickSize(-9).tickFormat(''), top, 1.4);
  plainAxis(g, d3.axisTop(x).tickValues(t.even).tickSize(-13).tickFormat(''), top, 1.6);

  const xAxis = g
    .append('g')
    .attr('transform', bottom)
    .call(d3.axisBottom(x).tickValues(t.even).tickSize(-13).tickPadding(p.xPad).tickFormat((d) => (p.thetaLabels.includes(d) ? d : '')));
  xAxis.select('.domain').remove();
  xAxis.selectAll('line').attr('stroke-width', 1.6);
  xAxis.selectAll('text').attr('font-size', p.xFont).attr('font-family', null).attr('fill', '#000');

  const decadeValues = p.decades.map((e) => 10 ** e);
  plainAxis(g, d3.axisLeft(y).tickValues(decadeValues).tickSize(-12).tickFormat(''), `translate(${b.left},0)`, 1.6);
  plainAxis(g, d3.axisRight(y).tickValues(decadeValues).tickSize(-12).tickFormat(''), `translate(${b.right},0)`, 1.6);

  // decade labels as 10 with a superscript exponent
  const yl = p.yLabel;
  const labels = g
    .append('g')
    .attr('class', 'y-labels')
    .selectAll('text')
    .data(p.decadeLabels)
    .join('text')
    .attr('x', yl.x)
    .attr('y', (e) => y(10 ** e) + yl.base)
    .attr('text-anchor', 'end')
    .attr('font-size', yl.font);
  labels.append('tspan').text('10');
  labels
    .append('tspan')
    .attr('dx', 2)
    .attr('dy', yl.rise)
    .attr('font-size', yl.sup)
    .text((e) => e);

  g.append('rect')
    .attr('x', b.left)
    .attr('y', b.top)
    .attr('width', b.right - b.left)
    .attr('height', b.bottom - b.top)
    .attr('fill', 'none')
    .attr('stroke', '#000')
    .attr('stroke-width', 2);

  // thickness labels
  g.append('g')
    .attr('class', 'tags')
    .selectAll('text')
    .data(p.series)
    .join('text')
    .attr('x', (d) => p.tags[d.label][0])
    .attr('y', (d) => p.tags[d.label][1])
    .attr('font-size', p.tagFont)
    .text((d) => d.label);

  g.append('text')
    .attr('x', p.title.x)
    .attr('y', p.title.y)
    .attr('text-anchor', 'middle')
    .attr('font-size', 30)
    .text('2θ-ω (°)');

  g.append('text')
    .attr('transform', `translate(${p.yTitle.x},${p.yTitle.y}) rotate(-90)`)
    .attr('text-anchor', 'middle')
    .attr('font-size', 29)
    .attr('textLength', p.yTitle.len)
    .attr('lengthAdjust', 'spacingAndGlyphs')
    .text('Intensity (arb. units)');

  g.append('text')
    .attr('x', p.panel.x)
    .attr('y', p.panel.y)
    .attr('font-size', 34)
    .text(p.panel.text);
}

function drawInset() {
  const b = { left: 552, right: 726, top: 28, bottom: 133 };
  const g = svg.append('g').attr('class', 'inset');
  const x = d3.scaleLinear().domain([24.013, 24.0658]).range([b.left, b.right]);
  const y = d3.scaleLinear().domain([-37, 451]).range([b.bottom, b.top]);

  g.append('rect')
    .attr('x', b.left)
    .attr('y', b.top)
    .attr('width', b.right - b.left)
    .attr('height', b.bottom - b.top)
    .attr('fill', '#fff');

  g.append('path')
    .datum(rocking)
    .attr('fill', 'none')
    .attr('stroke', '#ee1111')
    .attr('stroke-width', 2)
    .attr('d', d3.line().x((d) => x(d[0])).y((d) => y(d[1])));

  g.append('g')
    .selectAll('circle')
    .data(rocking)
    .join('circle')
    .attr('cx', (d) => x(d[0]))
    .attr('cy', (d) => y(d[1]))
    .attr('r', 3.6)
    .attr('fill', '#ee1111');

  plainAxis(g, d3.axisTop(x).tickValues(omegaTicks).tickSize(-7).tickFormat(''), `translate(0,${b.top})`, 1.4);
  plainAxis(g, d3.axisRight(y).tickValues(countLabels).tickSize(-7).tickFormat(''), `translate(${b.right},0)`, 1.4);

  const xAxis = g
    .append('g')
    .attr('transform', `translate(0,${b.bottom})`)
    .call(d3.axisBottom(x).tickValues(omegaTicks).tickSize(-7).tickPadding(6).tickFormat((d) => (omegaLabels.includes(d) ? d3.format('.2f')(d) : '')));
  xAxis.select('.domain').remove();
  xAxis.selectAll('line').attr('stroke-width', 1.4);
  xAxis.selectAll('text').attr('font-size', 19).attr('font-family', null).attr('fill', '#000');

  const yAxis = g
    .append('g')
    .attr('transform', `translate(${b.left},0)`)
    .call(d3.axisLeft(y).tickValues(countLabels).tickSize(-7).tickPadding(9));
  yAxis.select('.domain').remove();
  yAxis.selectAll('line').attr('stroke-width', 1.4);
  yAxis.selectAll('text').attr('font-size', 18).attr('font-family', null).attr('fill', '#000');

  g.append('rect')
    .attr('x', b.left)
    .attr('y', b.top)
    .attr('width', b.right - b.left)
    .attr('height', b.bottom - b.top)
    .attr('fill', 'none')
    .attr('stroke', '#000')
    .attr('stroke-width', 1.6);

  g.append('text')
    .attr('transform', `translate(493,${(b.top + b.bottom) / 2}) rotate(-90)`)
    .attr('text-anchor', 'middle')
    .attr('font-size', 21)
    .attr('textLength', 98)
    .attr('lengthAdjust', 'spacingAndGlyphs')
    .text('Intensity');

  g.append('text')
    .attr('x', x(24.04))
    .attr('y', 186)
    .attr('text-anchor', 'middle')
    .attr('font-size', 26)
    .text('ω (°)');
}
</script>
</body>
</html>
